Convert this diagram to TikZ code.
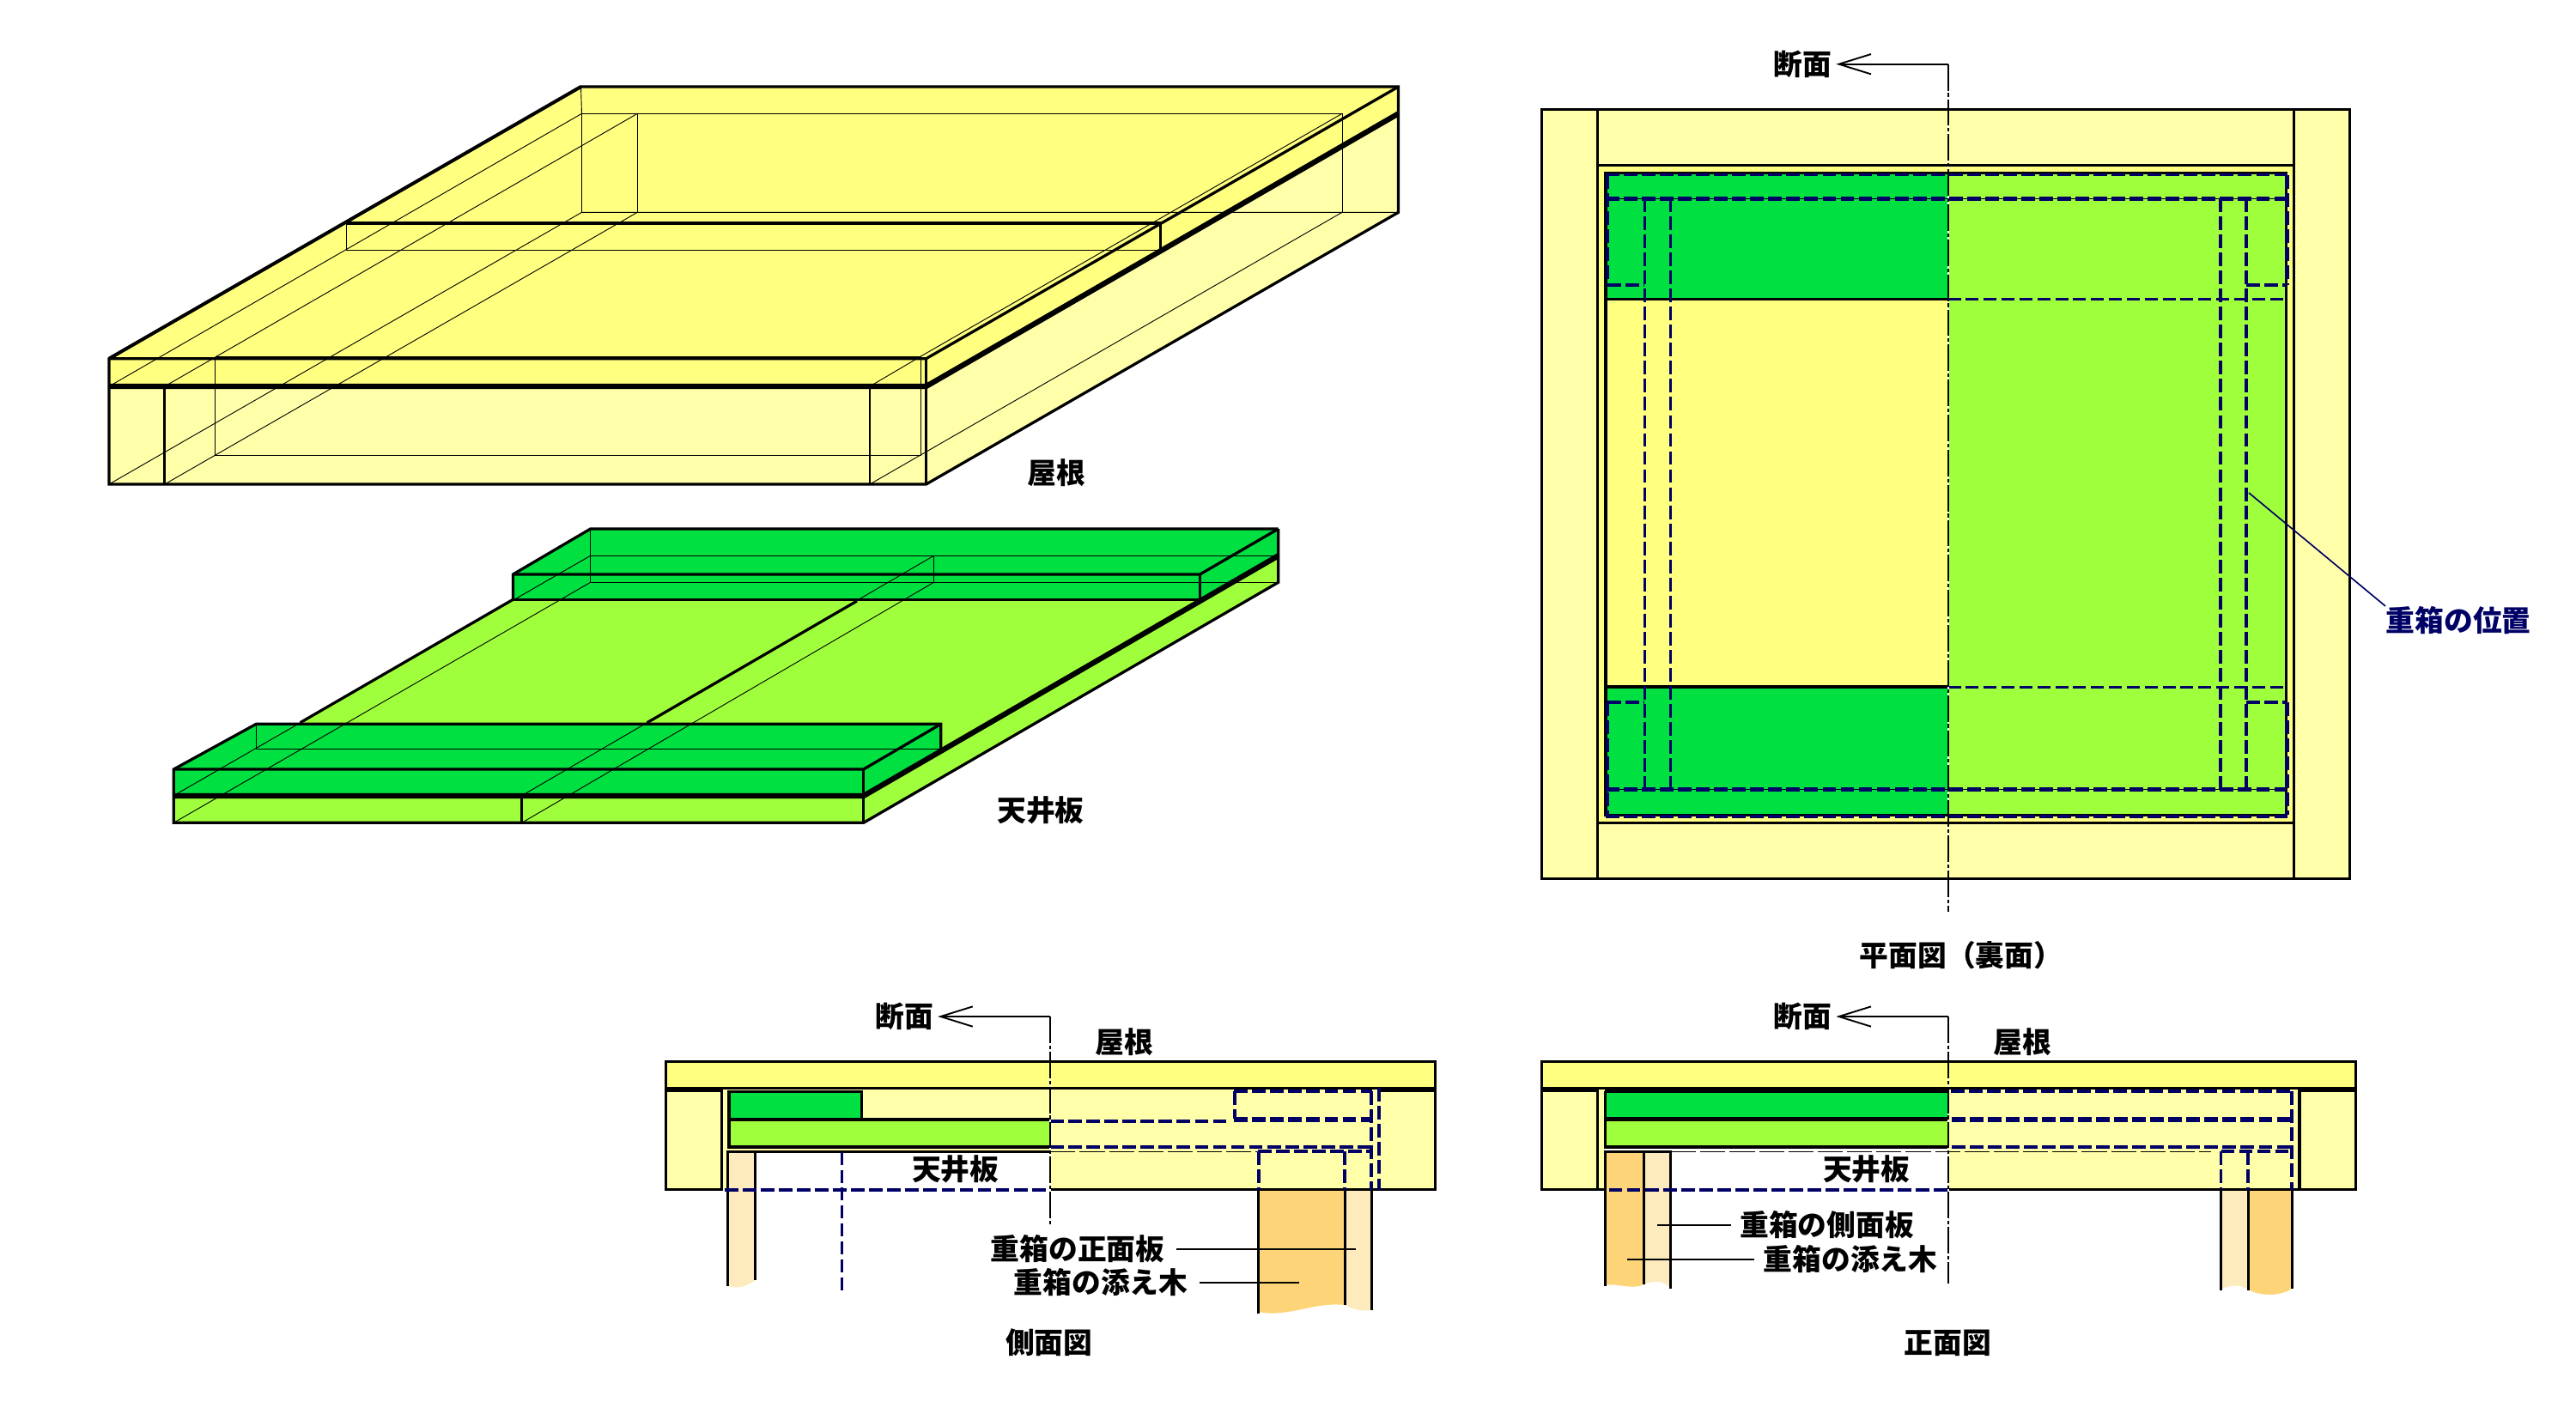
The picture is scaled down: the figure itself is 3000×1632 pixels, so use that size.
\documentclass[tikz,border=0pt]{standalone}
\usepackage{fontspec}
\setmainfont{Noto Sans CJK JP}
\usetikzlibrary{arrows.meta}
\definecolor{yA}{HTML}{FFFF80}
\definecolor{yB}{HTML}{FFFFAA}
\definecolor{gD}{HTML}{00E040}
\definecolor{gL}{HTML}{A0FF3C}
\definecolor{tanD}{HTML}{FDD578}
\definecolor{tanL}{HTML}{FDEBBE}
\definecolor{navyc}{HTML}{000066}
\tikzset{
 lnH/.style={line width=1.5pt,line join=miter},
 lnM/.style={line width=0.78pt,line join=miter},
 lnS/.style={line width=0.66pt},
 lnT/.style={line width=0.22pt},
 nav/.style={navyc,line width=0.9pt,dash pattern=on 3.8pt off 1.25pt},
 navH/.style={navyc,line width=1.35pt,dash pattern=on 3.8pt off 1.25pt},
 navT/.style={navyc,line width=0.72pt,dash pattern=on 3.6pt off 1.4pt},
 blkd/.style={black,line width=0.3pt,dash pattern=on 7pt off 1.2pt},
 ctrU/.style={white,line width=0.5pt},
 ctr/.style={black,line width=0.5pt,dash pattern=on 7.4pt off 0.7pt on 1pt off 0.7pt},
 lbl/.style={font=\fontsize{8.1pt}{9pt}\selectfont\bfseries,inner sep=0pt,text=black},
 lblN/.style={lbl,text=navyc},
 lead/.style={black,line width=0.45pt},
 cutarrow/.style={black,line width=0.45pt,-{Straight Barb[length=9pt,width=5.6pt,line width=0.45pt]},shorten >=1pt}
}
\begin{document}
\begin{tikzpicture}[x=0.24pt,y=-0.24pt]
\useasboundingbox (0,0) rectangle (3000,1632);
% ===== roof, isometric =====
\fill[yA] (127,417.7)--(676.5,101)--(1628.6,101)--(1628.6,132.3)--(1078.6,450)--(127,450)--cycle;
\fill[yB] (127,450)--(1078.6,450)--(1628.6,132.3)--(1628.6,247.3)--(1078.6,564)--(127,564)--cycle;
\draw[lnT] (403.6,260)--(403.6,291.3)--(1351.5,291.3);
\draw[lnT] (676.5,101)--(677.5,132.3)--(677.5,247.3)--(1628.6,247.3);
\draw[lnT] (677.5,132.3)--(1563,132.3)--(1563,247.3);
\draw[lnT] (742.3,132.3)--(742.3,247.3);
\draw[lnT] (127,564)--(677.5,247.3);
\draw[lnT] (191.8,564)--(742.3,247.3);
\draw[lnT] (127,450)--(677.5,132.3);
\draw[lnT] (191.8,450)--(742.3,132.3);
\draw[lnT] (1013,564)--(1563,247.3);
\draw[lnT] (1013,450)--(1072.4,415)--(1563,132.3);
\draw[lnT] (250.5,415)--(1072.4,415);
\draw[lnT] (250.5,417.7)--(250.5,530)--(1072.4,530)--(1072.4,415);
\draw[lnM] (127,417.7)--(676.5,101)--(1628.6,101)--(1628.6,247.3)--(1078.6,564)--(127,564)--cycle;
\draw[line width=0.95pt] (127,417.7)--(676.5,101);
\draw[lnM] (127,417.7)--(1078.6,417.7)--(1628.6,101);
\draw[lnM] (1078.6,417.7)--(1078.6,564);
\draw[lnH] (127,450)--(1078.6,450)--(1628.6,132.3);
\draw[lnM] (191.8,450)--(191.8,564);
\draw[lnS] (1013,450)--(1013,564);
\draw[lnM] (403.6,260)--(1351.5,260);
\draw[lnS] (1351.5,260)--(1351.5,291.3);
\node[lbl] (lRoofIso) at (1230.4,551) {屋根};
% ===== ceiling board, isometric =====
\fill[gL] (202.3,926.7)--(685,647.3)--(1488.7,647.3)--(1488.7,678.3)--(1005.7,958.3)--(202.3,958.3)--cycle;
\fill[gD] (202.3,896)--(298.3,843.3)--(1095.8,843.3)--(1095.8,875)--(1005.7,927)--(202.3,927)--cycle;
\fill[gD] (597.4,669)--(687.6,616)--(1488.7,616)--(1488.7,647.3)--(1397.4,698.3)--(597.4,698.3)--cycle;
% thin hidden edges
\draw[lnT] (202.3,958.3)--(687.6,678.3);
\draw[lnT] (202.3,926.7)--(687.6,647.3);
\draw[lnT] (607.7,926.7)--(1087.5,647.3);
\draw[lnT] (607.7,958.3)--(1087.5,678.3)--(1087.5,647.3);
\draw[lnT] (298.3,843.3)--(298.3,872.3)--(1095.8,872.3);
\draw[lnT] (687.6,616)--(687.6,678.3)--(1488.7,678.3);
\draw[lnT] (687.6,647.3)--(1488.7,647.3);
% heavy visible edges
\draw[lnM] (349.6,841.7)--(597.4,698.3);
\draw[lnM] (753.7,841.7)--(998,700);
\draw[lnM] (202.3,926.7)--(202.3,958.3)--(1005.7,958.3)--(1488.7,678.3)--(1488.7,616);
\draw[lnS] (607.7,927)--(607.7,958.3);
\draw[lnM] (1005.7,896)--(1005.7,958.3);
\draw[lnH] (202.3,927)--(1005.7,927)--(1488.7,647.3);
\draw[lnM] (202.3,927)--(202.3,896)--(298.3,843.3)--(1095.8,843.3)--(1095.8,875);
\draw[lnM] (202.3,896)--(1005.7,896)--(1095.8,843.3);
\draw[lnM] (597.4,698.3)--(597.4,669)--(687.6,616)--(1488.7,616);
\draw[lnM] (597.4,669)--(1397.4,669)--(1488.7,616);
\draw[lnM] (597.4,698.3)--(1397.4,698.3)--(1397.4,669);
\node[lbl] (lBoardIso) at (1212,944) {天井板};
% ===== plan =====
\fill[yB] (1795.7,127.3) rectangle (2736.6,1023.3);
\fill[yA] (1860.4,192.7) rectangle (2671.4,958.3);
\fill[yA] (1870,201.7) rectangle (2268.6,949.3);
\fill[gD] (1870,201.7) rectangle (2268.6,348.3);
\fill[gD] (1870,800) rectangle (2268.6,949.3);
\fill[gL] (2268.6,201.7) rectangle (2662.5,949.3);
\draw[lnM] (1795.7,127.3) rectangle (2736.6,1023.3);
\draw[lnM] (1860.4,127.3)--(1860.4,1023.3);
\draw[lnM] (2671.4,127.3)--(2671.4,1023.3);
\draw[lnM] (1860.4,192.7)--(2671.4,192.7);
\draw[lnM] (1860.4,958.3)--(2671.4,958.3);
\draw[line width=0.85pt] (1870,201.7) rectangle (2662.5,949.3);
\draw[lnM] (1870,348.3)--(2268.6,348.3);
\draw[lnM] (1870,800)--(2268.6,800);
\draw[lnT] (1870,231.3)--(2662,231.3);
\draw[lnT] (1870,919.3)--(2662,919.3);
\draw[navT] (2268.6,348.3)--(2662,348.3);
\draw[navT] (2268.6,800)--(2662,800);
\draw[nav] (1870,203.5)--(2664,203.5);
\draw[navH] (1870,231.3)--(2662,231.3);
\draw[navH] (1870,919.3)--(2662,919.3);
\draw[nav] (1870,951)--(2664,951);
\draw[nav] (1915.4,231)--(1915.4,919);
\draw[nav] (1945.4,231)--(1945.4,919);
\draw[nav] (2586,231)--(2586,919);
\draw[nav] (2616,231)--(2616,919);
\draw[nav] (1872,332.3)--(1915,332.3);
\draw[nav] (2616,332.3)--(2662,332.3);
\draw[nav] (1872,818.3)--(1915,818.3);
\draw[nav] (2616,818.3)--(2662,818.3);
\draw[nav] (1872,204)--(1872,332);
\draw[nav] (1872,818)--(1872,949);
\draw[navH] (2663.5,204)--(2663.5,332);
\draw[navH] (2663.5,818)--(2663.5,949);
\node[lbl] (lCutP) at (2099.6,74.7) {断面};
\coordinate (cP) at (2268.6,74.7);
\coordinate (cPe) at (2268.6,1061.7);
\draw[ctrU] (cP)--(cPe);
\draw[ctr] (cP)--(cPe);
\draw[lead] (cP)--++(0,30);
\draw[cutarrow] (cP)--(lCutP.east);
\node[lbl,anchor=west] (lPlan) at (2165,1113) {平面図（裏面）};
\node[lblN,anchor=west] (lPos) at (2778,723) {重箱の位置};
\coordinate (pPos) at (2619,574);
\draw[navyc,line width=0.4pt] (pPos)--(lPos.north west);
% ===== side view =====
\fill[yA] (775.7,1236.7) rectangle (1671.3,1267.3);
\fill[yB] (775.7,1267.3) rectangle (847.5,1385.7);
\fill[yB] (847.5,1267.3) rectangle (1223.2,1341.3);
\fill[yB] (1223.2,1267.3) rectangle (1671.3,1385.7);
\fill[gD] (849,1271.3) rectangle (1003.6,1303.3);
\fill[gL] (849,1305) rectangle (1223.2,1336);
\fill[tanL] (847.5,1341.3)--(879.6,1341.3)--(879.6,1491)..controls (872,1497) and (860,1502) .. (847.5,1498)--cycle;
\fill[tanD] (1465.7,1385.7)--(1566.3,1385.7)--(1566.3,1520)..controls (1530,1516) and (1500,1535) .. (1465.7,1528)--cycle;
\fill[tanL] (1566.3,1385.7)--(1597.3,1385.7)--(1597.3,1526)..controls (1590,1527) and (1578,1527) .. (1566.3,1520)--cycle;
\draw[lnM] (775.7,1236.7) rectangle (1671.3,1267.3);
\draw[lnM] (775.7,1267.3)--(775.7,1385.7)--(840.4,1385.7)--(840.4,1267.3);
\draw[lnM] (1671.3,1267.3)--(1671.3,1385.7)--(1223.2,1385.7);
\draw[line width=1.2pt] (775.7,1269)--(840.4,1269);
\draw[line width=1.2pt] (1606.3,1269)--(1671.3,1269);
\draw[line width=0.85pt] (849,1271.3) rectangle (1003.6,1303.3);
\draw[line width=0.85pt] (849,1305)--(849,1336)--(1223.2,1336);
\draw[line width=0.85pt] (849,1304)--(1223.2,1304);
\draw[lnM] (847.5,1498)--(847.5,1341.3)--(1223.2,1341.3);
\draw[lnM] (879.6,1341.3)--(879.6,1491);
\draw[blkd] (1223.2,1341.3)--(1465,1341.3);
\draw[nav] (844,1385.7)--(1223.2,1385.7);
\draw[navT] (980.4,1341.7)--(980.4,1503);
\draw[nav] (1223.2,1305.7)--(1431.7,1305.7);
\draw[nav] (1223.2,1336)--(1597,1336);
\draw[nav] (1465,1341.3)--(1598,1341.3);
\draw[navH] (1437.3,1303.7)--(1598.3,1303.7);
\draw[nav] (1437.3,1271.3)--(1598.3,1271.3);
\draw[nav] (1438.3,1271)--(1438.3,1303);
\draw[nav] (1597.3,1271)--(1597.3,1385.7);
\draw[nav] (1606.3,1267.3)--(1606.3,1385.7);
\draw[nav] (1465.7,1341.3)--(1465.7,1385.7);
\draw[nav] (1566.3,1341.3)--(1566.3,1385.7);
\draw[lnM] (1465.7,1385.7)--(1465.7,1530);
\draw[lnM] (1566.3,1385.7)--(1566.3,1520);
\draw[lnM] (1597.3,1385.7)--(1597.3,1526);
\node[lbl] (lCutS) at (1053.4,1184) {断面};
\coordinate (cS) at (1223.2,1184);
\coordinate (cSe) at (1223.2,1428.3);
\draw[ctrU] (cS)--(cSe);
\draw[ctr] (cS)--(cSe);
\draw[lead] (cS)--++(0,30);
\draw[cutarrow] (cS)--(lCutS.east);
\node[lbl] (lRoofS) at (1309,1214) {屋根};
\node[lbl] (lBoardS) at (1112.7,1362) {天井板};
\node[lbl] (lFront) at (1255,1455) {重箱の正面板};
\node[lbl] (lSoeS) at (1282,1494) {重箱の添え木};
\node[lbl] (lSide) at (1221.8,1564) {側面図};
\coordinate (pFront) at (1579,1455);
\coordinate (pSoeS) at (1512.7,1494);
\draw[lead,shorten <=3pt] (lFront.east)--(pFront);
\draw[lead,shorten <=3pt] (lSoeS.east)--(pSoeS);
% ===== front view =====
\fill[yA] (1795.7,1236.7) rectangle (2743.4,1267.3);
\fill[yB] (1795.7,1267.3) rectangle (1869,1385.7);
\fill[yB] (2268.6,1267.3) rectangle (2743.4,1385.7);
\fill[gD] (1869.3,1271.3) rectangle (2268.6,1302.7);
\fill[gL] (1869.3,1305) rectangle (2268.6,1336);
\fill[tanD] (1869.3,1341.3)--(1914.6,1341.3)--(1914.6,1496)..controls (1900,1503) and (1885,1494) .. (1869.3,1497)--cycle;
\fill[tanL] (1914.6,1341.3)--(1945.4,1341.3)--(1945.4,1500)..controls (1935,1490) and (1925,1492) .. (1914.6,1496)--cycle;
\fill[tanL] (2586.5,1385.7)--(2618.3,1385.7)--(2618.3,1502)..controls (2608,1496) and (2598,1496) .. (2586.5,1502)--cycle;
\fill[tanD] (2618.3,1385.7)--(2669.3,1385.7)--(2669.3,1501)..controls (2655,1510) and (2632,1510) .. (2618.3,1502)--cycle;
\draw[lnM] (1795.7,1236.7) rectangle (2743.4,1267.3);
\draw[lnM] (1795.7,1267.3)--(1795.7,1385.7)--(1869,1385.7);
\draw[lnM] (1860.4,1267.3)--(1860.4,1385.7);
\draw[lnM] (2743.4,1267.3)--(2743.4,1385.7)--(2268.6,1385.7);
\draw[lnM] (2678,1267.3)--(2678,1385.7);
\draw[line width=1.2pt] (1795.7,1269)--(1860.4,1269);
\draw[line width=1.2pt] (2678,1269)--(2743.4,1269);
\draw[line width=0.85pt] (1869.3,1271)--(2268.6,1271);
\draw[line width=0.85pt] (2268.6,1336)--(1869.3,1336)--(1869.3,1271);
\draw[line width=1.3pt] (1869.3,1303.7)--(2268.6,1303.7);
\draw[lnM] (1869.3,1498)--(1869.3,1341.3)--(1945.4,1341.3)--(1945.4,1501);
\draw[lnM] (1914.6,1341.3)--(1914.6,1496);
\draw[blkd] (1946,1341.3)--(2574.5,1341.3);
\draw[nav] (1873.6,1385.7)--(2268.6,1385.7);
\draw[nav] (2272,1271.3)--(2669.3,1271.3);
\draw[navH] (2272.8,1303.7)--(2669.3,1303.7);
\draw[nav] (2272.8,1336)--(2669.3,1336);
\draw[nav] (2586.5,1341.3)--(2669.3,1341.3);
\draw[nav] (2669.3,1271.3)--(2669.3,1385.7);
\draw[nav] (2586.5,1341.3)--(2586.5,1385.7);
\draw[nav] (2618.3,1341.3)--(2618.3,1385.7);
\draw[lnM] (2586.5,1385.7)--(2586.5,1503);
\draw[lnM] (2618.3,1385.7)--(2618.3,1503);
\draw[lnM] (2669.3,1385.7)--(2669.3,1501);
\node[lbl] (lCutF) at (2099.6,1184) {断面};
\coordinate (cF) at (2268.6,1184);
\coordinate (cFe) at (2268.6,1495);
\draw[ctrU] (cF)--(cFe);
\draw[ctr] (cF)--(cFe);
\draw[lead] (cF)--++(0,30);
\draw[cutarrow] (cF)--(lCutF.east);
\node[lbl] (lRoofF) at (2355,1214) {屋根};
\node[lbl] (lBoardF) at (2173.8,1362) {天井板};
\node[lbl] (lSideB) at (2127.7,1427) {重箱の側面板};
\node[lbl] (lSoeF) at (2155,1467) {重箱の添え木};
\node[lbl] (lFrontV) at (2268.4,1564) {正面図};
\coordinate (pSideB) at (1930,1427);
\coordinate (pSoeF) at (1895,1467);
\draw[lead,shorten <=2.4pt] (lSideB.west)--(pSideB);
\draw[lead,shorten <=2.4pt] (lSoeF.west)--(pSoeF);
\end{tikzpicture}
\end{document}
